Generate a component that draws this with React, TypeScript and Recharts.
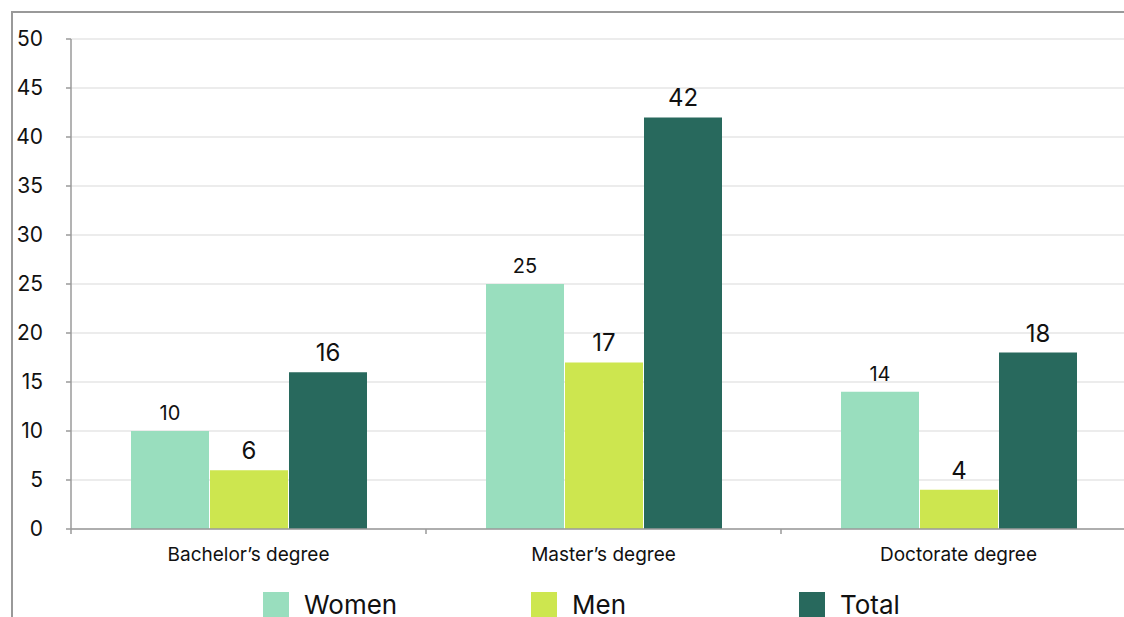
import { Bar, BarChart, CartesianGrid, LabelList, Legend, XAxis, YAxis } from 'recharts'

const categories = ['Bachelor’s degree', 'Master’s degree', 'Doctorate degree']
const women = [10, 25, 14]
const men = [6, 17, 4]
const total = [16, 42, 18]
const yTicks = [0, 5, 10, 15, 20, 25, 30, 35, 40, 45, 50]

const series = [
  { key: 'women', name: 'Women', color: '#99debe', labelSize: 20 },
  { key: 'men', name: 'Men', color: '#cde64f', labelSize: 24 },
  { key: 'total', name: 'Total', color: '#28695d', labelSize: 24 },
]

const data = categories.map((name, i) => ({
  name,
  women: women[i],
  men: men[i],
  total: total[i],
}))

const FONT = 'Inter, "Noto Sans", sans-serif'
const AXIS = '#9a9a9a'

// category label + small tick at the left edge of each band
// eslint-disable-next-line @typescript-eslint/no-explicit-any
function CategoryTick(props: any) {
  const { x, y, payload, width, visibleTicksCount } = props
  const half = payload?.offset || width / visibleTicksCount / 2
  return (
    <g>
      <line x1={x - half} x2={x - half} y1={y - 19} y2={y - 14} stroke={AXIS} strokeWidth={1.5} />
      <text x={x} y={y} dy='0.71em' textAnchor='middle' fontSize={19} fill='#111' fontFamily={FONT}>
        {payload.value}
      </text>
    </g>
  )
}

function LegendBox() {
  return (
    <div style={{ height: 52, overflow: 'hidden', display: 'flex', paddingLeft: 263, paddingTop: 4, boxSizing: 'border-box' }}>
      {series.map((s) => (
        <div key={s.key} style={{ width: 268, display: 'flex', alignItems: 'flex-start' }}>
          <span style={{ width: 26, height: 26, background: s.color, display: 'inline-block', marginRight: 15 }} />
          <span style={{ fontSize: 26, lineHeight: '26px', color: '#111', fontFamily: FONT }}>{s.name}</span>
        </div>
      ))}
    </div>
  )
}

export default function App() {
  return (
    <div style={{ position: 'fixed', left: 0, top: 0, width: 1124, height: 617, overflow: 'hidden', background: '#fff' }}>
      <div
        style={{
          position: 'absolute',
          left: 11,
          top: 11,
          width: 1300,
          height: 800,
          borderTop: '2px solid #999',
          borderLeft: '2px solid #999',
        }}
      />
      <div style={{ position: 'absolute', left: 0, top: 0 }}>
        <BarChart
          width={1140}
          height={640}
          data={data}
          margin={{ top: 39, right: 4, left: 0, bottom: 0 }}
          barCategoryGap={60}
          barGap={1}
        >
          <CartesianGrid vertical={false} stroke='#e6e6e6' strokeWidth={1.5} />
          <XAxis
            dataKey='name'
            height={59}
            tickLine={false}
            tickSize={0}
            tickMargin={19}
            axisLine={{ stroke: AXIS, strokeWidth: 1.5 }}
            tick={<CategoryTick />}
            interval={0}
          />
          <YAxis
            width={71}
            domain={[0, 50]}
            ticks={yTicks}
            interval={0}
            tickSize={5}
            tickMargin={23}
            axisLine={{ stroke: AXIS, strokeWidth: 1.5 }}
            tickLine={{ stroke: AXIS, strokeWidth: 1.5 }}
            tick={{ fontSize: 21, fill: '#111', fontFamily: FONT }}
          />
          <Legend verticalAlign='bottom' height={52} content={<LegendBox />} />
          {series.map((s) => (
            <Bar key={s.key} dataKey={s.key} name={s.name} fill={s.color} isAnimationActive={false}>
              <LabelList
                dataKey={s.key}
                position='top'
                offset={11}
                fontSize={s.labelSize}
                fill='#111'
                fontFamily={FONT}
              />
            </Bar>
          ))}
        </BarChart>
      </div>
    </div>
  )
}
